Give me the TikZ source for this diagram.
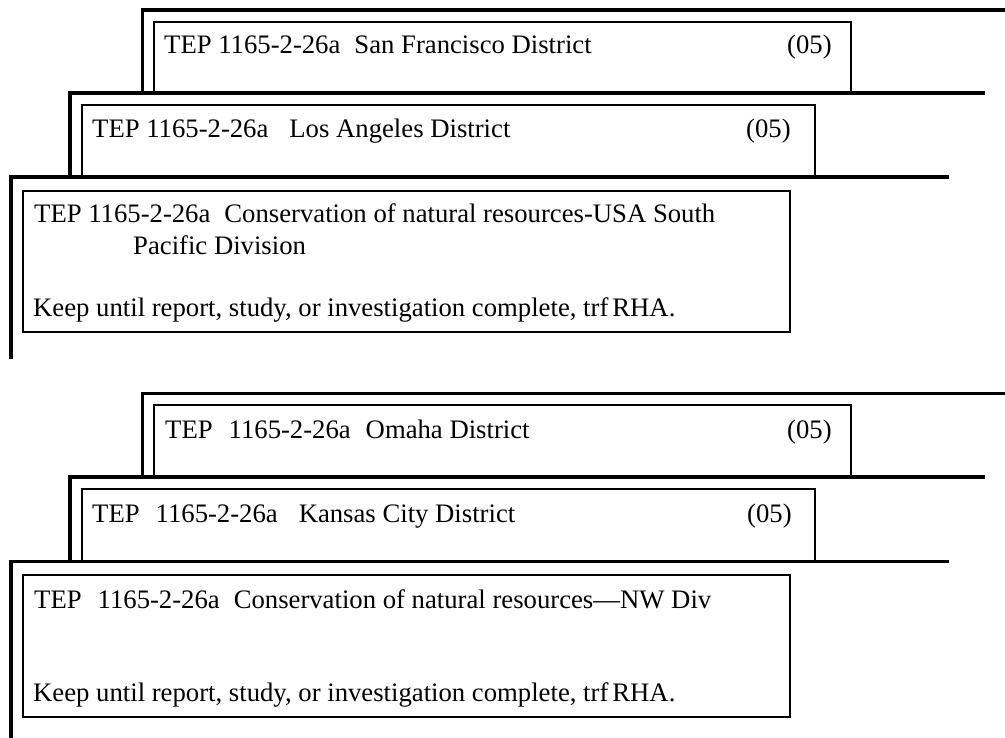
\documentclass[tikz,border=0pt]{standalone}
\usepackage{fontspec}
\setmainfont{Liberation Serif}
\begin{document}
\begin{tikzpicture}[x=1pt,y=-1pt,
  frame/.style={line width=3.2pt,line cap=rect},
  card/.style={line width=2.2pt,fill=white},
  txt/.style={anchor=base west,inner sep=0pt,font=\fontsize{26.7}{32}\selectfont}]
\useasboundingbox (0,0) rectangle (1005,738);
\begin{scope}
\clip (0,0) rectangle (1005,738);
% ---------- upper group ----------
\draw[frame] (142.5,93) -- (142.5,10) -- (1010,10);
\draw[card] (154,22) rectangle (851,93);
\draw[frame] (70,177) -- (70,93) -- (983,93);
\draw[card] (82,105) rectangle (815,177);
\draw[frame] (11,357) -- (11,177) -- (947,177);
\draw[card] (23,191) rectangle (790,332);
% ---------- lower group ----------
\draw[frame] (142.5,477) -- (142.5,393.5) -- (1010,393.5);
\draw[card] (154,405) rectangle (851,477);
\draw[frame] (70,561.5) -- (70,477) -- (983,477);
\draw[card] (82,489) rectangle (815,561.5);
\draw[frame] (11,745) -- (11,561.5) -- (947,561.5);
\draw[card] (23,575) rectangle (790,717);
\end{scope}
% ---------- texts upper ----------
\node[txt] (sf) at (164,54) {TEP 1165-2-26a\hspace{14pt}San Francisco District};
\node[txt] (sfn) at (787,54) {(05)};
\node[txt] (la) at (92,137.5) {TEP 1165-2-26a\hspace{21pt}Los Angeles District};
\node[txt] (lan) at (746,137.5) {(05)};
\node[txt] (sp1) at (34,222.5) {TEP 1165-2-26a\hspace{14pt}Conservation of natural resources-USA South};
\node[txt] (sp2) at (133,254.5) {Pacific Division};
\node[txt] (sp3) at (33,316.5) {Keep until report, study, or investigation complete, trf\hspace{4pt}RHA.};
% ---------- texts lower ----------
\node[txt] (om) at (165,438.5) {TEP\hspace{16pt}1165-2-26a\hspace{15pt}Omaha District};
\node[txt] (omn) at (787,438.5) {(05)};
\node[txt] (kc) at (92,522) {TEP\hspace{16pt}1165-2-26a\hspace{21pt}Kansas City District};
\node[txt] (kcn) at (747,522) {(05)};
\node[txt] (nw1) at (34,608) {TEP\hspace{16pt}1165-2-26a\hspace{14pt}Conservation of natural resources---NW Div};
\node[txt] (nw2) at (33,701.5) {Keep until report, study, or investigation complete, trf\hspace{4pt}RHA.};
\end{tikzpicture}
\end{document}
